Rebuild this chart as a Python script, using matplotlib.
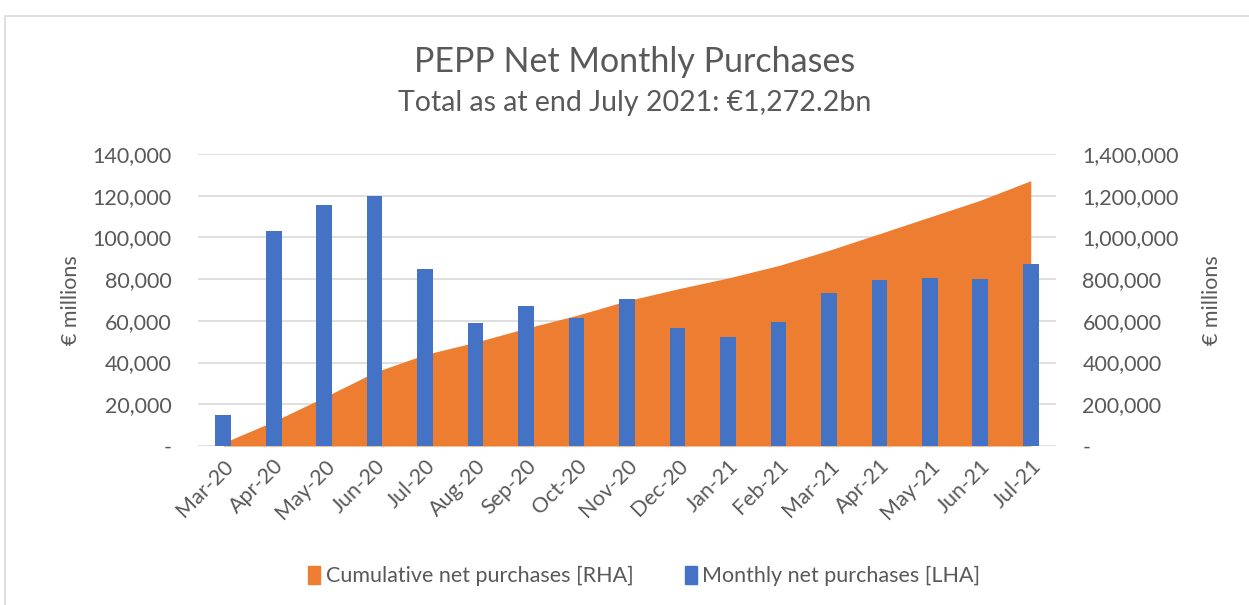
import numpy as np
import matplotlib.pyplot as plt
from matplotlib.patches import Patch
from matplotlib.ticker import FuncFormatter

months = ["Mar-20", "Apr-20", "May-20", "Jun-20", "Jul-20", "Aug-20", "Sep-20", "Oct-20",
          "Nov-20", "Dec-20", "Jan-21", "Feb-21", "Mar-21", "Apr-21", "May-21", "Jun-21", "Jul-21"]
# monthly net purchases, EUR millions (left axis)
monthly = [15000, 103100, 115500, 120000, 85000, 59000, 67000, 61500,
           70300, 56600, 52400, 59500, 73200, 79700, 80400, 79900, 87300]
# cumulative net purchases, EUR millions (right axis)
cumulative = [15000, 118100, 233600, 353600, 438600, 497600, 564600, 626100,
              696400, 753000, 805400, 864900, 938100, 1017800, 1098200, 1178100, 1272200]

BLUE = "#4472c4"
ORANGE = "#ed7d31"
TXT = "#595959"

plt.rcParams['font.family'] = ['Lato', 'DejaVu Sans']

fig = plt.figure(figsize=(12.49, 6.05), dpi=100)
ax = fig.add_axes([198 / 1249, 1 - 446 / 605, (1056 - 198) / 1249, (446 - 154) / 605])
ax2 = ax.twinx()

x = np.arange(len(months))

# cumulative area on right axis, drawn behind the bars
ax2.fill_between(x, 0, cumulative, color=ORANGE, linewidth=0, zorder=2)
ax2.set_ylim(0, 1400000)
ax2.set_yticks(np.arange(0, 1400001, 200000))
ax2.yaxis.grid(True, color="#d9d9d9", linewidth=1.2, zorder=0)
ax2.set_axisbelow(True)

ax.bar(x, monthly, width=0.31, color=BLUE, zorder=3)
ax.set_ylim(0, 140000)
ax.set_yticks(np.arange(0, 140001, 20000))
ax.set_xlim(-0.5, len(months) - 0.5)
ax.set_zorder(ax2.get_zorder() + 1)
ax.patch.set_visible(False)

fmt = FuncFormatter(lambda v, p: "-" if v == 0 else f"{v:,.0f}")
ax.yaxis.set_major_formatter(fmt)
ax2.yaxis.set_major_formatter(fmt)

ax.set_xticks(x)
ax.set_xticklabels(months, rotation=45, ha="right", rotation_mode="anchor")

for a in (ax, ax2):
    for s in a.spines.values():
        s.set_visible(False)
    a.tick_params(length=0, labelsize=15.5, labelcolor=TXT)
ax.tick_params(axis="y", pad=19)
ax2.tick_params(axis="y", pad=19)
ax.tick_params(axis="x", pad=7)

ax.set_ylabel("€ millions", fontsize=15.5, color=TXT, labelpad=8)
ax2.set_ylabel("€ millions", fontsize=15.5, color=TXT, labelpad=17)

fig.text(0.508, 1 - 62 / 605, "PEPP Net Monthly Purchases", ha="center", va="center",
         fontsize=24.5, color=TXT)
fig.text(0.508, 1 - 103 / 605, "Total as at end July 2021: €1,272.2bn", ha="center",
         va="center", fontsize=20.5, color=TXT)

handles = [Patch(color=ORANGE), Patch(color=BLUE)]
fig.legend(handles, ["Cumulative net purchases [RHA]", "Monthly net purchases [LHA]"],
           loc="center", bbox_to_anchor=(0.516, 1 - 576 / 605), ncol=2, frameon=False,
           fontsize=15.5, labelcolor=TXT, handlelength=0.55, handleheight=0.9,
           handletextpad=0.25, columnspacing=2.4)

# outer chart border
fig.patches.append(plt.Rectangle((5 / 1249, -0.01), 1.1, 1 - 16 / 605 + 0.01,
                                 transform=fig.transFigure, fill=False,
                                 edgecolor="#d9d9d9", linewidth=1.2))

fig.savefig("out.png", dpi=100)
